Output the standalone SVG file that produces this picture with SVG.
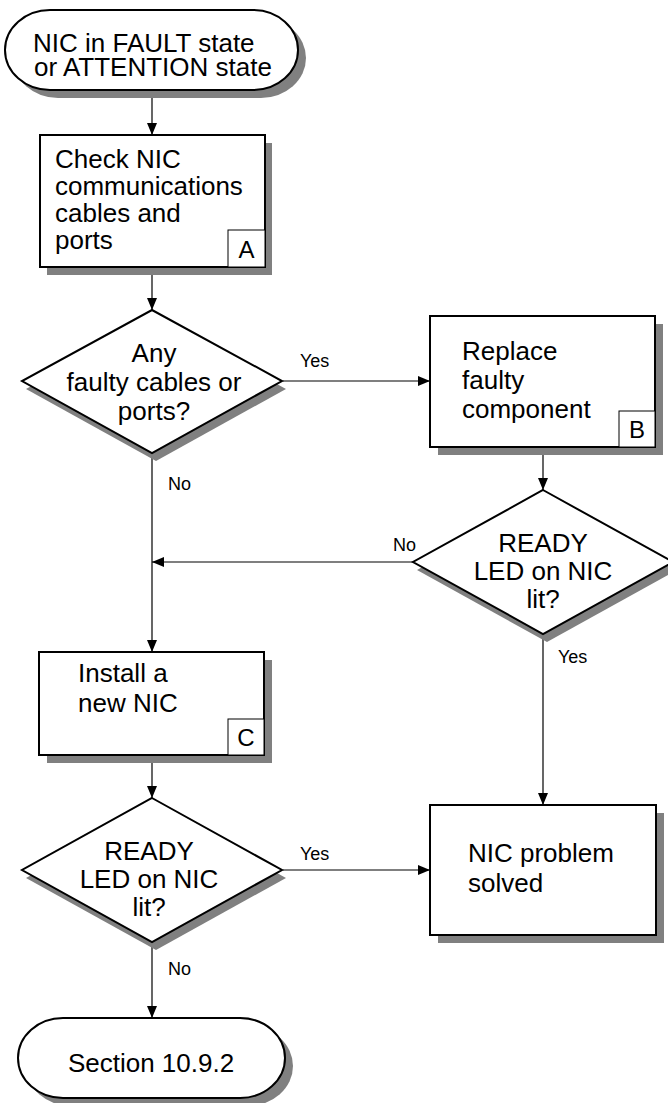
<svg xmlns="http://www.w3.org/2000/svg" width="668" height="1103" viewBox="0 0 668 1103">
<defs>
<style>
.shape{fill:#fff;stroke:#000;stroke-width:2}
.shadow{fill:#808080;stroke:none}
.lbl{fill:#fff;stroke:#000;stroke-width:1}
.t{font-family:"Liberation Sans",Arial,sans-serif;font-size:26px;fill:#000}
.c{text-anchor:middle}
.s{font-family:"Liberation Sans",Arial,sans-serif;font-size:18px;fill:#000}
.conn{fill:none;stroke:#000;stroke-width:1.2;marker-end:url(#ah)}
</style>
<marker id="ah" markerUnits="userSpaceOnUse" markerWidth="12" markerHeight="10" refX="12" refY="5" orient="auto">
<path d="M0,0 L12,5 L0,10 z" fill="#000"/>
</marker>
</defs>
<rect width="668" height="1103" fill="#fff"/>

<g id="connectors">
<line class="conn" x1="152" y1="92" x2="152" y2="135"/>
<line class="conn" x1="152" y1="268" x2="152" y2="310"/>
<line class="conn" x1="283" y1="381" x2="430" y2="381"/>
<line class="conn" x1="543" y1="448" x2="543" y2="490"/>
<line class="conn" x1="413" y1="562" x2="152" y2="562"/>
<line class="conn" x1="152" y1="454" x2="152" y2="652"/>
<line class="conn" x1="543" y1="635" x2="543" y2="805"/>
<line class="conn" x1="152" y1="756" x2="152" y2="798"/>
<line class="conn" x1="283" y1="870" x2="430" y2="870"/>
<line class="conn" x1="152" y1="943" x2="152" y2="1018"/>
<text class="s" x="300" y="367">Yes</text>
<text class="s" x="393" y="551">No</text>
<text class="s" x="168" y="490">No</text>
<text class="s" x="558" y="663">Yes</text>
<text class="s" x="300" y="860">Yes</text>
<text class="s" x="168" y="975">No</text>
</g>

<g id="start">
<rect class="shadow" x="13" y="18" width="293" height="80" rx="45" ry="40"/>
<rect class="shape" x="5" y="10" width="293" height="80" rx="45" ry="40"/>
<text class="t" x="33" y="52">NIC in FAULT state</text>
<text class="t" x="34" y="76">or ATTENTION state</text>
</g>

<g id="nodeA">
<rect class="shadow" x="47" y="143" width="225" height="132"/>
<rect class="shape" x="40" y="135" width="225" height="132"/>
<text class="t" x="55" y="168">Check NIC</text>
<text class="t" x="55" y="195">communications</text>
<text class="t" x="55" y="222">cables and</text>
<text class="t" x="55" y="249">ports</text>
<rect class="lbl" x="228" y="230" width="37" height="37"/>
<text class="t c" x="246.5" y="258" style="font-size:24px">A</text>
</g>

<g id="decision1">
<polygon class="shadow" points="156,318 286,389 156,461 26,389"/>
<polygon class="shape" points="152,310 282,381 152,453 22,381"/>
<text class="t c" x="154" y="362">Any</text>
<text class="t c" x="154" y="391">faulty cables or</text>
<text class="t c" x="154" y="420">ports?</text>
</g>

<g id="nodeB">
<rect class="shadow" x="438" y="324" width="225" height="131"/>
<rect class="shape" x="430" y="316" width="225" height="131"/>
<text class="t" x="462" y="360">Replace</text>
<text class="t" x="462" y="389">faulty</text>
<text class="t" x="462" y="418">component</text>
<rect class="lbl" x="619" y="411" width="36" height="36"/>
<text class="t c" x="637" y="438" style="font-size:24px">B</text>
</g>

<g id="decision2">
<polygon class="shadow" points="547,498 677,570 547,642 417,570"/>
<polygon class="shape" points="543,490 673,562 543,634 413,562"/>
<text class="t c" x="543" y="552">READY</text>
<text class="t c" x="543" y="580">LED on NIC</text>
<text class="t c" x="543" y="608">lit?</text>
</g>

<g id="nodeC">
<rect class="shadow" x="47" y="660" width="225" height="103"/>
<rect class="shape" x="39" y="652" width="225" height="103"/>
<text class="t" x="78" y="682">Install a</text>
<text class="t" x="78" y="712">new NIC</text>
<rect class="lbl" x="228" y="719" width="36" height="36"/>
<text class="t c" x="246" y="746" style="font-size:24px">C</text>
</g>

<g id="decision3">
<polygon class="shadow" points="156,806 286,878 156,950 26,878"/>
<polygon class="shape" points="152,798 282,870 152,942 22,870"/>
<text class="t c" x="149" y="860">READY</text>
<text class="t c" x="149" y="888">LED on NIC</text>
<text class="t c" x="149" y="916">lit?</text>
</g>

<g id="solved">
<rect class="shadow" x="438" y="813" width="226" height="130"/>
<rect class="shape" x="430" y="805" width="226" height="130"/>
<text class="t" x="468" y="862">NIC problem</text>
<text class="t" x="468" y="892">solved</text>
</g>

<g id="end">
<rect class="shadow" x="26" y="1026" width="267" height="80" rx="45" ry="40"/>
<rect class="shape" x="18" y="1018" width="267" height="80" rx="45" ry="40"/>
<text class="t c" x="151" y="1072">Section 10.9.2</text>
</g>
</svg>
